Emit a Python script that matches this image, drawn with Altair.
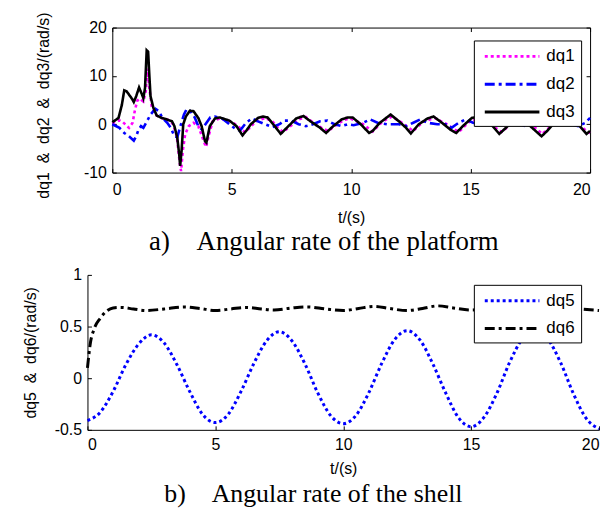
import altair as alt
import pandas as pd

# ---------------- panel a: angular rate of the platform ----------------
dq1_pts = [(0, 0.2), (0.3, 0.8), (0.45, 0.4), (0.7, -0.75), (0.85, 0.3), (0.95, 3.0), (1.05, 4.9),
           (1.15, 5.3), (1.3, 4.7), (1.4, 6.8), (1.47, 11.5), (1.55, 7.5), (1.65, 3.7), (1.8, 2.0),
           (2.0, 1.4), (2.3, 1.0), (2.55, 0.0), (2.7, -2.5), (2.83, -8.3), (2.88, -9.7), (2.95, -5.5),
           (3.05, -2.1), (3.2, -0.4), (3.4, 0.3), (3.6, -0.4), (3.8, -3.1), (3.92, -4.7), (4.05, -2.1),
           (4.2, 0.6), (4.5, 1.2), (5.0, 0.5), (5.3, -0.6), (5.55, -1.6), (5.75, -0.8), (6.0, 0.6),
           (6.4, 1.3), (6.7, 0.6), (6.95, -0.8), (7.15, -1.6), (7.4, -0.6), (7.8, 1.0), (8.1, 1.5),
           (8.4, 0.4), (8.8, -0.9), (9.05, -1.4), (9.3, -0.4), (9.7, 0.9), (9.95, 1.2), (10.5, 0.0),
           (10.9, -1.5), (11.3, 0.5), (11.7, 1.6), (12.1, 0.4), (12.6, -1.4), (13.0, 0.5), (13.5, 1.3),
           (14.0, 0.0), (14.5, -1.6), (15.0, 0.8), (15.4, 1.0), (15.8, 0.0), (16.3, -1.6), (16.8, 0.5),
           (17.2, 1.2), (17.6, -0.3), (18.0, -2.0), (18.5, 0.2), (19.0, 1.2), (19.5, 0.0), (19.9, -1.6),
           (20, -1.8)]
dq2_pts = [(0, 0.0), (0.3, -0.75), (0.5, -1.8), (0.7, -2.5), (0.9, -3.4), (1.0, -2.5), (1.1, -1.1),
           (1.2, -0.4), (1.3, -0.75), (1.45, 0.6), (1.6, 2.0), (1.8, 3.2), (1.95, 2.7), (2.1, 1.3),
           (2.3, 0.3), (2.45, -0.75), (2.6, -2.5), (2.72, -2.7), (2.85, -0.4), (3.0, 2.0), (3.1, 3.0),
           (3.25, 2.8), (3.45, 1.4), (3.6, -0.4), (3.75, -1.1), (3.9, 0.0), (4.1, 1.4), (4.3, 1.6),
           (4.6, 1.2), (4.9, 0.0), (5.2, -1.1), (5.35, -1.3), (5.6, 0.3), (5.85, 1.2), (6.1, 0.6),
           (6.4, 0.0), (6.7, -0.6), (7.0, 0.0), (7.2, 0.75), (7.5, 0.75), (7.8, 0.0), (8.1, -0.4),
           (8.4, 0.0), (8.7, 0.6), (9.0, 0.75), (9.3, 0.0), (9.6, -0.4), (9.85, 0.0), (10.1, -0.2),
           (10.5, 0.3), (10.8, 1.0), (11.1, 0.3), (11.5, 0.0), (12.0, 0.0), (12.3, -0.4), (12.6, 0.3),
           (12.9, 1.0), (13.2, 0.3), (13.6, 0.0), (14.0, 0.0), (14.2, -0.75), (14.5, 0.3), (14.8, 1.0),
           (15.1, 0.3), (15.5, 0.0), (16.0, 0.1), (16.5, 0.2), (17.0, 0.0), (17.3, -0.4), (17.6, 0.3),
           (17.9, 0.9), (18.3, 0.0), (18.7, 0.0), (19.2, 0.0), (19.5, -0.4), (19.8, 0.3), (20, 1.3)]
dq3_pts = [(0, 0.4), (0.26, 1.3), (0.4, 4.0), (0.5, 7.0), (0.6, 6.8), (0.82, 5.3), (0.9, 4.6),
           (1.0, 5.8), (1.12, 7.6), (1.24, 6.2), (1.3, 5.4), (1.37, 7.5), (1.44, 15.3), (1.5, 15.0),
           (1.55, 10.2), (1.6, 5.8), (1.72, 3.4), (1.86, 1.8), (2.07, 1.3), (2.28, 1.0), (2.5, 0.6),
           (2.6, -0.4), (2.72, -2.8), (2.8, -6.2), (2.84, -8.6), (2.9, -5.5), (2.97, 0.0), (3.08, 1.6),
           (3.25, 2.8), (3.4, 2.7), (3.6, 1.3), (3.74, -0.4), (3.88, -3.5), (3.94, -3.8), (4.08, -0.4),
           (4.3, 1.2), (4.5, 1.4), (4.9, 0.75), (5.2, -0.4), (5.45, -2.3), (5.6, -1.4), (5.8, 0.0),
           (6.1, 1.3), (6.3, 1.6), (6.5, 1.4), (6.8, -0.4), (7.05, -2.0), (7.3, -0.75), (7.7, 1.2),
           (8.0, 1.7), (8.3, 0.6), (8.7, -0.75), (8.95, -1.8), (9.2, -0.6), (9.6, 1.0), (9.85, 1.4),
           (10.06, 1.4), (10.4, 0.0), (10.75, -1.8), (10.9, -1.4), (11.2, 0.3), (11.65, 2.0), (12.0, 0.6),
           (12.3, -0.75), (12.5, -1.9), (12.83, 0.0), (13.2, 1.2), (13.45, 1.6), (13.8, 0.3), (14.15, -1.1),
           (14.4, -1.8), (14.67, -0.4), (15.05, 1.3), (15.3, 1.5), (15.8, 0.3), (16.2, -2.0), (16.4, -1.1),
           (16.7, 0.3), (17.1, 1.6), (17.5, -0.4), (17.97, -2.5), (18.2, -1.4), (18.5, 0.3), (18.95, 1.5),
           (19.5, 0.0), (19.85, -2.0), (20, -1.4)]

# ---------------- panel b: angular rate of the shell ----------------
dq5_t = [0, 0.5, 1, 1.5, 2, 2.5, 3, 3.5, 4, 4.5, 5, 5.5, 6, 6.5, 7, 7.5, 8, 8.5, 9, 9.5, 10,
         10.5, 11, 11.5, 12, 12.5, 13, 13.5, 14, 14.5, 15, 15.5, 16, 16.5, 17, 17.5, 18, 18.5, 19, 19.5, 20]
dq5_v = [-0.41, -0.33, -0.13, 0.13, 0.33, 0.42, 0.34, 0.13, -0.13, -0.35, -0.43, -0.35, -0.13, 0.14,
         0.36, 0.45, 0.36, 0.14, -0.14, -0.36, -0.44, -0.36, -0.14, 0.14, 0.37, 0.46, 0.37, 0.14,
         -0.14, -0.38, -0.47, -0.38, -0.15, 0.15, 0.38, 0.47, 0.38, 0.15, -0.15, -0.39, -0.49]
dq6_pts = [(0, 0.1), (0.12, 0.35), (0.25, 0.47), (0.5, 0.58), (0.75, 0.65), (1.0, 0.68), (1.3, 0.685),
           (1.8, 0.67), (2.3, 0.655), (3.0, 0.67), (3.8, 0.69), (4.4, 0.675), (5.0, 0.655), (5.6, 0.67),
           (6.2, 0.685), (6.8, 0.67), (7.3, 0.66), (8.0, 0.68), (8.6, 0.69), (9.3, 0.67), (10.0, 0.655),
           (10.6, 0.675), (11.2, 0.695), (11.8, 0.675), (12.5, 0.655), (13.1, 0.675), (13.7, 0.70),
           (14.3, 0.68), (15.0, 0.66), (15.6, 0.67), (16.3, 0.685), (17.0, 0.68), (17.7, 0.665),
           (18.4, 0.68), (19.2, 0.67), (20.0, 0.655)]

x_ticks = [0, 5, 10, 15, 20]
ya_ticks = [-10, 0, 10, 20]
yb_ticks = [-0.5, 0, 0.5, 1]

rows_a = []
for name, pts in (("dq1", dq1_pts), ("dq2", dq2_pts), ("dq3", dq3_pts)):
    rows_a += [{"t": t, "v": v, "s": name} for t, v in pts]
dfa = pd.DataFrame(rows_a)

rows_b = [{"t": t, "v": v, "s": "dq5"} for t, v in zip(dq5_t, dq5_v)]
rows_b += [{"t": t, "v": v, "s": "dq6"} for t, v in dq6_pts]
dfb = pd.DataFrame(rows_b)

FONT = "Liberation Sans"
SERIF = "Liberation Serif"
NB = "\u00a0"
LBL = "datum.value + ''"

# legend sample line: custom path scaled by sqrt(size)/2 = 8.5 -> 55 px long
LEG_PATH = "M-0.588,0H5.882"


def legend(x, y, row_pad):
    return alt.Legend(title=None, orient="none", legendX=x, legendY=y, symbolType=LEG_PATH,
                      symbolSize=289, symbolStrokeWidth=3, labelFont=FONT, labelFontSize=17,
                      labelColor="black", labelOffset=47, fillColor="white", strokeColor="black",
                      padding=6, rowPadding=row_pad, cornerRadius=0, labelLimit=0)


def ghost(base, xs, ys, xaxis, yaxis):
    return base.mark_point(opacity=0).encode(
        x=alt.X("t:Q", scale=xs, axis=xaxis),
        y=alt.Y("v:Q", scale=ys, axis=yaxis),
    )


tick_kw = dict(labels=False, title=None, grid=False, tickSize=4, ticks=True)

# ---- panel a
WA, HA, LA = 506, 146, 25
xs_a = alt.Scale(domain=[0, 20], range=[LA, WA], nice=False, zero=False)
ys_a = alt.Scale(domain=[-10, 20], nice=False, zero=False)
col_a = alt.Scale(domain=["dq1", "dq2", "dq3"], range=["#ff00ff", "#0000ff", "#000000"])
dash_a = alt.Scale(domain=["dq1", "dq2", "dq3"], range=[[3, 3], [10, 4, 3, 4], [1, 0]])

base_a = alt.Chart(dfa)
lines_a = base_a.mark_line(strokeWidth=2.6, strokeCap="butt").encode(
    x=alt.X("t:Q", scale=xs_a, axis=alt.Axis(values=x_ticks, title="t/(s)", ticks=False, tickSize=0,
                                             labelPadding=9, titlePadding=12, grid=False,
                                             labelExpr=LBL)),
    y=alt.Y("v:Q", scale=ys_a, axis=alt.Axis(values=ya_ticks,
                                             title=f"dq1{NB} &{NB} dq2{NB} &{NB} dq3/(rad/s)",
                                             offset=-LA, ticks=False, tickSize=0, labelPadding=6,
                                             titleX=-69, titleY=HA / 2 + 5, titleBaseline="middle",
                                             grid=False, labelExpr=LBL)),
    color=alt.Color("s:N", scale=col_a, legend=legend(389, 13, 10)),
    strokeDash=alt.StrokeDash("s:N", scale=dash_a, legend=legend(389, 13, 10)),
    order=alt.Order("t:Q"),
)
g1 = ghost(base_a, xs_a, ys_a,
           alt.Axis(orient="top", offset=-HA, values=x_ticks, domain=False, **tick_kw),
           alt.Axis(orient="right", offset=-(WA - LA), values=ya_ticks, domain=False, **tick_kw))
g2 = ghost(base_a, xs_a, ys_a,
           alt.Axis(orient="bottom", offset=-HA, values=x_ticks, domain=True, **tick_kw),
           alt.Axis(orient="left", offset=-WA, values=ya_ticks, domain=True, **tick_kw))

panel_a = alt.layer(lines_a, g1, g2).resolve_axis(x="independent", y="independent").properties(
    width=WA, height=HA,
    title=alt.TitleParams(f"a){NB}{NB}{NB}{NB}Angular rate of the platform", orient="bottom",
                          font=SERIF, fontSize=27, fontWeight="normal", color="black",
                          anchor="middle", frame="group", dx=-15, offset=4),
)

# ---- panel b
WB, HB = 515, 156
xs_b = alt.Scale(domain=[0, 20], nice=False, zero=False)
ys_b = alt.Scale(domain=[-0.5, 1], nice=False, zero=False)
col_b = alt.Scale(domain=["dq5", "dq6"], range=["#0000ff", "#000000"])
dash_b = alt.Scale(domain=["dq5", "dq6"], range=[[3, 3], [10, 4, 3, 4]])

base_b = alt.Chart(dfb)
lines_b = base_b.mark_line(strokeWidth=3, strokeCap="butt", interpolate="monotone").encode(
    x=alt.X("t:Q", scale=xs_b, axis=alt.Axis(values=x_ticks, title="t/(s)", ticks=False, tickSize=0,
                                             labelPadding=7, titlePadding=8, grid=False,
                                             labelExpr=LBL)),
    y=alt.Y("v:Q", scale=ys_b, axis=alt.Axis(values=yb_ticks,
                                             title=f"dq5{NB} &{NB} dq6/(rad/s)",
                                             ticks=False, tickSize=0, labelPadding=6,
                                             titleX=-57, titleY=HB / 2, titleBaseline="middle",
                                             grid=False, labelExpr=LBL)),
    color=alt.Color("s:N", scale=col_b, legend=legend(389, 10, 10)),
    strokeDash=alt.StrokeDash("s:N", scale=dash_b, legend=legend(389, 10, 10)),
    order=alt.Order("t:Q"),
)
g3 = ghost(base_b, xs_b, ys_b,
           alt.Axis(orient="top", offset=-HB, values=x_ticks, domain=False, **tick_kw),
           alt.Axis(orient="right", offset=-WB, values=yb_ticks, domain=False, **tick_kw))

panel_b = alt.layer(lines_b, g3).resolve_axis(x="independent", y="independent").properties(
    width=WB, height=HB,
    title=alt.TitleParams(f"b){NB}{NB}{NB}{NB}Angular rate of the shell", orient="bottom",
                          font=SERIF, fontSize=26, fontWeight="normal", color="black",
                          anchor="middle", frame="group", dx=-30, offset=5),
)

chart = alt.vconcat(panel_a, panel_b, spacing=12).resolve_scale(
    color="independent", strokeDash="independent"
).resolve_legend(color="independent", strokeDash="independent").properties(
    padding={"left": 14, "top": 2, "right": -5, "bottom": 0}
).configure_view(strokeWidth=0).configure_axis(
    labelFont=FONT, labelFontSize=16, labelColor="black", titleFont=FONT, titleFontSize=16,
    titleFontWeight="normal", titleColor="black", domainColor="black", domainWidth=1,
    tickColor="black", tickWidth=1,
)

chart.save("out.html", embed_options={"renderer": "svg", "actions": False})
